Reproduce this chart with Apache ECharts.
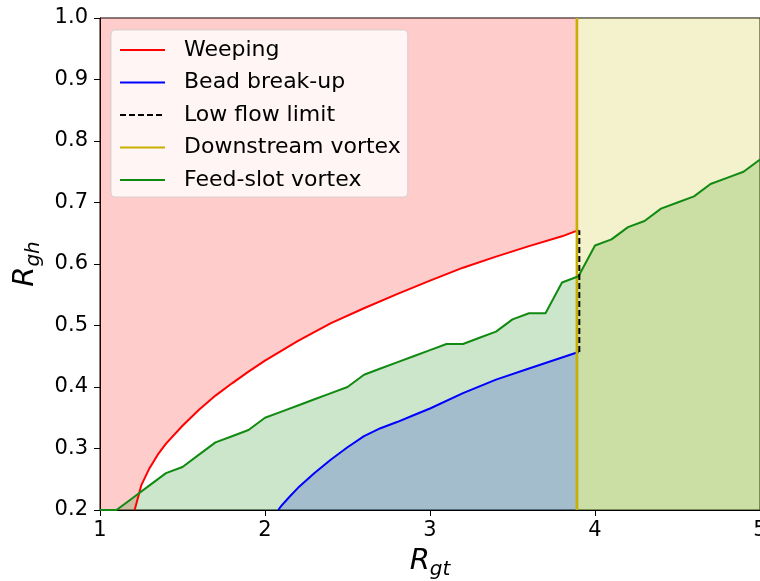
<!DOCTYPE html>
<html>
<head>
<meta charset="utf-8">
<script src="https://cdn.jsdelivr.net/npm/echarts@6/dist/echarts.min.js"></script>
<style>html,body{margin:0;padding:0;background:#fff}#c{width:760px;height:581px}</style>
</head>
<body>
<div id="c"></div>
<script>
// ---- data ----
const xTicks = [1, 2, 3, 4, 5];
const yTicks = [0.2, 0.3, 0.4, 0.5, 0.6, 0.7, 0.8, 0.9, 1.0];

const weepingX = [1.21, 1.25, 1.3, 1.35, 1.4, 1.5, 1.6, 1.7, 1.8, 1.9, 2.0, 2.2, 2.4, 2.6, 2.8, 3.0, 3.2, 3.4, 3.6, 3.8, 3.9];
const weepingY = [0.2, 0.24, 0.268, 0.29, 0.308, 0.337, 0.363, 0.386, 0.406, 0.425, 0.443, 0.475, 0.504, 0.528, 0.551, 0.573, 0.594, 0.612, 0.629, 0.645, 0.655];

const beadX = [2.08, 2.1, 2.15, 2.2, 2.3, 2.4, 2.5, 2.6, 2.7, 2.8, 2.9, 3.0, 3.2, 3.4, 3.6, 3.8, 3.9];
const beadY = [0.2, 0.207, 0.222, 0.236, 0.26, 0.282, 0.302, 0.32, 0.333, 0.343, 0.354, 0.365, 0.39, 0.412, 0.43, 0.448, 0.457];

const feedX = [1.0, 1.1, 1.2, 1.3, 1.4, 1.5, 1.6, 1.7, 1.8, 1.9, 2.0, 2.1, 2.2, 2.3, 2.4, 2.5, 2.6, 2.7, 2.8, 2.9, 3.0,
               3.1, 3.2, 3.3, 3.4, 3.5, 3.6, 3.7, 3.8, 3.9, 4.0, 4.1, 4.2, 4.3, 4.4, 4.5, 4.6, 4.7, 4.8, 4.9, 5.0];
const feedY = [0.2, 0.2, 0.22, 0.24, 0.26, 0.27, 0.29, 0.31, 0.32, 0.33, 0.35, 0.36, 0.37, 0.38, 0.39, 0.40, 0.42, 0.43, 0.44, 0.45, 0.46,
               0.47, 0.47, 0.48, 0.49, 0.51, 0.52, 0.52, 0.57, 0.58, 0.63, 0.64, 0.66, 0.67, 0.69, 0.70, 0.71, 0.73, 0.74, 0.75, 0.77];

const vortexX = 3.89;      // downstream vortex limit
const lowFlowX = 3.905;    // low flow limit position
const lowFlowY = [0.457, 0.655];

const names = ['Weeping', 'Bead break-up', 'Low flow limit', 'Downstream vortex', 'Feed-slot vortex'];

// ---- build ----
const zip = (xs, ys) => xs.map((x, i) => [x, ys[i]]);
const xMin = xTicks[0], xMax = xTicks[xTicks.length - 1];
const yMin = yTicks[0], yMax = yTicks[yTicks.length - 1];
const FF = 'DejaVu Sans';

const weeping = zip(weepingX, weepingY);
const bead = zip(beadX, beadY);
const feed = zip(feedX, feedY);

const chart = echarts.init(document.getElementById('c'), null, {renderer: 'canvas'});

const fillSeries = (data, color, origin, z) => ({
  type: 'line', data: data, symbol: 'none', silent: true, z: z,
  lineStyle: {width: 0, opacity: 0},
  areaStyle: {color: color, opacity: 1, origin: origin},
  emphasis: {disabled: true}
});
const lineSeries = (name, data, color, z, type, w) => ({
  name: name, type: 'line', data: data, symbol: 'none', z: z, silent: true,
  lineStyle: {color: color, width: w || 2, type: type || 'solid'},
  itemStyle: {color: color},
  emphasis: {disabled: true}
});

const nameRich = () => ({
  rich: {
    i: {fontSize: 29, fontStyle: 'italic', fontFamily: FF, color: '#000', lineHeight: 29, padding: [0, 0, 4, 0], verticalAlign: 'bottom'},
    s: {fontSize: 20, fontStyle: 'italic', fontFamily: FF, color: '#000', lineHeight: 20, verticalAlign: 'bottom'}
  }
});

chart.setOption({
  animation: false,
  backgroundColor: '#fff',
  grid: {left: 100, right: 0, top: 18, bottom: 71, show: true, borderColor: '#000', borderWidth: 1,
         containLabel: false, outerBoundsMode: 'none'},
  legend: {
    data: names, orient: 'vertical', left: 111, top: 30, z: 20,
    backgroundColor: 'rgba(255,255,255,0.8)', borderColor: 'rgba(204,204,204,0.8)', borderWidth: 1, borderRadius: 4,
    padding: [8, 7, 5, 8], itemWidth: 45, itemHeight: 14, itemGap: 8.5,
    itemStyle: {opacity: 0},
    textStyle: {fontFamily: FF, fontSize: 22, color: '#000', lineHeight: 24, padding: [0, 0, 0, 14]},
    selectedMode: false
  },
  xAxis: {
    type: 'value', min: xMin, max: xMax, interval: 1,
    name: '{i|R}{s|gt}', nameLocation: 'middle', nameGap: 41, nameTextStyle: nameRich(),
    axisLine: {show: true, lineStyle: {color: '#000', width: 1}},
    axisTick: {show: true, length: 6, lineStyle: {color: '#000', width: 1}},
    splitLine: {show: false},
    axisLabel: {fontFamily: FF, fontSize: 21, color: '#000', margin: 10, formatter: v => String(v)}
  },
  yAxis: {
    type: 'value', min: yMin, max: yMax, interval: 0.1,
    name: '{i|R}{s|gh}', nameLocation: 'middle', nameGap: 56, nameRotate: 90, nameTextStyle: nameRich(),
    axisLine: {show: true, lineStyle: {color: '#000', width: 1}},
    axisTick: {show: true, length: 6, lineStyle: {color: '#000', width: 1}},
    splitLine: {show: false},
    axisLabel: {fontFamily: FF, fontSize: 21, color: '#000', margin: 12, formatter: v => v.toFixed(1)}
  },
  series: [
    // regions
    fillSeries([[xMin, yMin]].concat(weeping), 'rgba(255,0,0,0.2)', 'end', 1),
    fillSeries(bead, 'rgba(0,0,255,0.2)', 'start', 2),
    fillSeries(feed, 'rgba(0,128,0,0.2)', 'start', 3),
    fillSeries([[vortexX, yMax], [xMax, yMax]], 'rgba(200,190,0,0.2)', 'start', 4),
    // boundary lines
    lineSeries(names[0], weeping, '#ff0000', 10),
    lineSeries(names[1], bead, '#0000ff', 10),
    lineSeries(names[2], [[lowFlowX, lowFlowY[0]], [lowFlowX, lowFlowY[1]]], '#000000', 11, [6, 3]),
    lineSeries(names[3], [[vortexX, yMin], [vortexX, yMax]], '#c9b000', 10, 'solid', 2.5),
    lineSeries(names[4], feed, '#108a10', 10)
  ]
});
</script>
</body>
</html>
